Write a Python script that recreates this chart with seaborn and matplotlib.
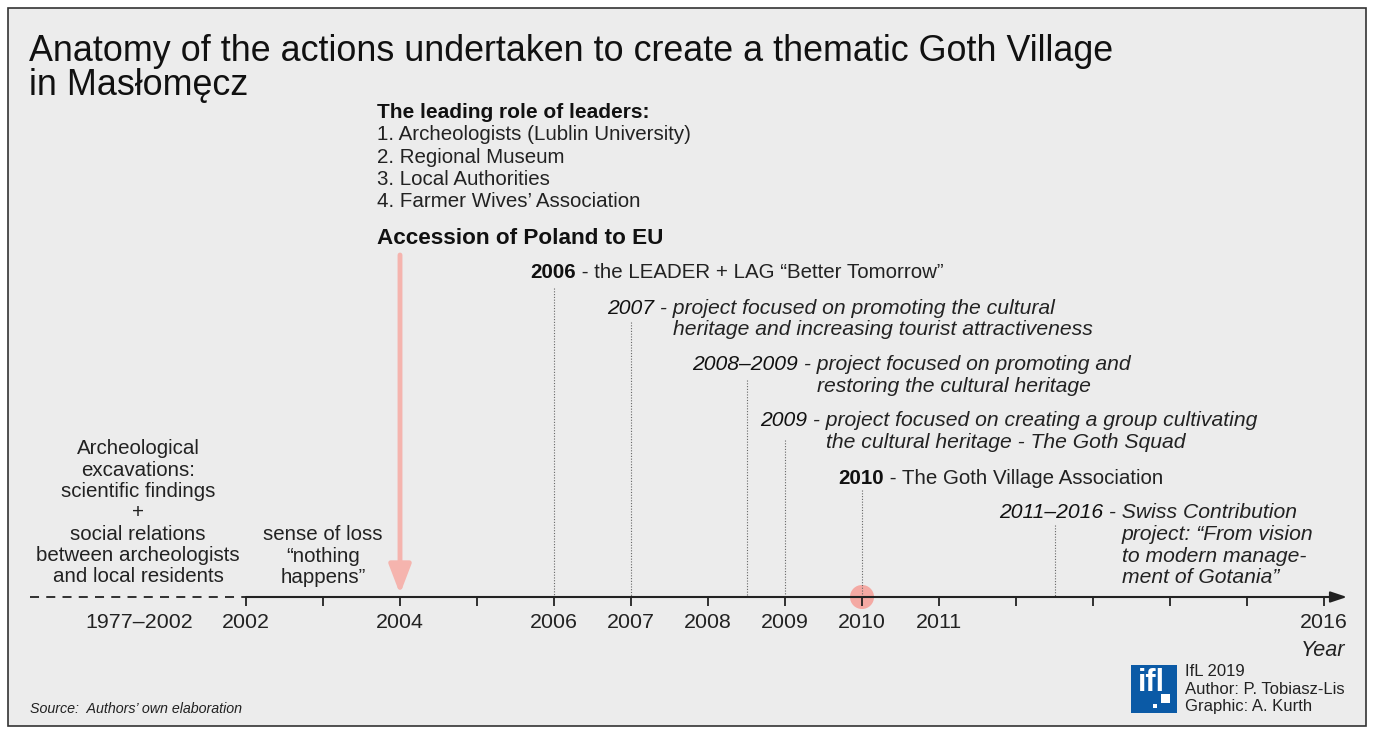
import seaborn as sns
import matplotlib.pyplot as plt
import matplotlib.patches as mpatches
import numpy as np
import pandas as pd

# timeline data
tick_years = list(range(2002, 2017))
tick_labels = ['2002', '', '2004', '', '2006', '2007', '2008', '2009', '2010', '2011',
               '', '', '', '', '2016']
leaders = ['1. Archeologists (Lublin University)', '2. Regional Museum',
           '3. Local Authorities', '4. Farmer Wives\u2019 Association']

# vertical markers: year on the axis, and where the dotted line starts (px from top)
marker_years = [2006, 2007, 2008.5, 2009, 2010, 2012.5]
marker_tops = [288, 322, 380, 440, 490, 525]

events = pd.DataFrame({
    'year': [2006, 2007, 2008.5, 2009, 2010, 2011],
    'head': ['2006', '2007', '2008\u20132009', '2009', '2010', '2011\u20132016'],
    'bold': [True, False, False, False, True, False],
    'lines': [['the LEADER + LAG \u201cBetter Tomorrow\u201d'],
              ['project focused on promoting the cultural',
               'heritage and increasing tourist attractiveness'],
              ['project focused on promoting and', 'restoring the cultural heritage'],
              ['project focused on creating a group cultivating',
               'the cultural heritage - The Goth Squad'],
              ['The Goth Village Association'],
              ['Swiss Contribution', 'project: \u201cFrom vision',
               'to modern manage-', 'ment of Gotania\u201d']],
    'x': [530, 607, 692, 760, 838, 999],
    'y': [273, 308, 365, 421, 478, 513],
})

W, H = 1374, 733
X0, PX_YEAR = 246, 77.0   # pixel of 2002, pixels per year


def yr(px):
    return 2002 + (px - X0) / PX_YEAR


sns.set_theme(style='white')
plt.rcParams['font.family'] = ['Liberation Sans', 'DejaVu Sans']
TXT = '#222222'
BG = '#ececec'
FS = 14.8     # body text
FSI = 15.2    # italic event text
FST = 15.4    # tick labels

fig = plt.figure(figsize=(W / 100, H / 100), dpi=100)
fig.patch.set_facecolor('white')
ax = fig.add_axes([0, 0, 1, 1])
ax.set_xlim(yr(0), yr(W))
ax.set_ylim(H, 0)
ax.axis('off')

# frame
ax.add_patch(mpatches.Rectangle((yr(8), 8), yr(1366) - yr(8), 718, facecolor=BG,
                                edgecolor='#333333', lw=1.2, zorder=0))

ax.text(yr(29), 61, 'Anatomy of the actions undertaken to create a thematic Goth Village',
        fontsize=25.8, color='#111111', va='baseline')
ax.text(yr(29), 95, 'in Mas\u0142om\u0119cz', fontsize=25.8, color='#111111', va='baseline')

ax.text(yr(377), 112, 'The leading role of leaders:', fontsize=15, fontweight='bold',
        color='#111111', va='center')
for i, s in enumerate(leaders):
    ax.text(yr(377), 135 + i * 22.3, s, fontsize=FS, color=TXT, va='center')
ax.text(yr(377), 238, 'Accession of Poland to EU', fontsize=16.2, fontweight='bold',
        color='#111111', va='center')

# left-hand notes
left_note = ['Archeological', 'excavations:', 'scientific findings', '+',
             'social relations', 'between archeologists', 'and local residents']
for i, s in enumerate(left_note):
    ax.text(yr(138), 449 + i * 21.3, s, fontsize=FS, color=TXT, ha='center', va='center')
for i, s in enumerate(['sense of loss', '\u201cnothing', 'happens\u201d']):
    ax.text(yr(323), 535 + i * 21.3, s, fontsize=FS, color=TXT, ha='center', va='center')

# axis line
AY = 597
sns.lineplot(x=[yr(30), 2002], y=[AY, AY], ax=ax, color='#222222', lw=1.3,
             linestyle=(0, (5, 4)))
ax.annotate('', xy=(yr(1347), AY), xytext=(2002, AY),
            arrowprops=dict(arrowstyle='-|>,head_width=0.3,head_length=0.9',
                            color='#222222', lw=1.5,
                            mutation_scale=11, shrinkA=0, shrinkB=0))
ax.vlines(tick_years, AY, AY + 9, color='#222222', lw=1.3)
for y_, lab in zip(tick_years, tick_labels):
    ax.text(y_, 623, lab, fontsize=FST, color=TXT, ha='center', va='center')
ax.text(yr(139), 623, '1977\u20132002', fontsize=FST, color=TXT, ha='center', va='center')
ax.text(yr(1345), 651, 'Year', fontsize=15.5, style='italic', color=TXT, ha='right',
        va='center')

# dotted markers
ax.vlines(marker_years, marker_tops, AY, color='#666666', lw=0.8, linestyle=(0, (1, 1.5)))

# red accent: arrow at 2004 and dot at 2010
ax.annotate('', xy=(2004, AY - 3), xytext=(2004, 255),
            arrowprops=dict(arrowstyle='-|>,head_width=0.42,head_length=1.1',
                            color='#f5b4ae', lw=3.5, mutation_scale=16,
                            shrinkA=0, shrinkB=0))
sns.scatterplot(x=[2010], y=[AY], ax=ax, s=300, color='#f4a9a3', edgecolor='none',
                zorder=1)

# event texts
fig.canvas.draw()
rend = fig.canvas.get_renderer()
inv = ax.transData.inverted()
for _, ev in events.iterrows():
    fs = FS if ev['bold'] else FSI
    st = 'normal' if ev['bold'] else 'italic'
    t = ax.text(yr(ev['x']), ev['y'], ev['head'], fontsize=fs, color='#111111',
                fontweight='bold' if ev['bold'] else 'normal', style=st, va='center')
    bb = t.get_window_extent(renderer=rend)
    x_end = inv.transform((bb.x1, 0))[0]
    lines = ev['lines']
    ax.text(x_end, ev['y'], ' - ' + lines[0], fontsize=fs, color=TXT, va='center', style=st)
    # continuation lines start under the first word after the dash
    dash = ax.text(x_end, ev['y'], ' - ', fontsize=fs, style=st, alpha=0)
    bbd = dash.get_window_extent(renderer=rend)
    x_cont = inv.transform((bbd.x1, 0))[0]
    for j, s in enumerate(lines[1:], start=1):
        ax.text(x_cont, ev['y'] + j * 21.5, s, fontsize=fs, color=TXT, va='center',
                style='italic')

# footer
ax.text(yr(30), 709, 'Source:  Authors\u2019 own elaboration', fontsize=10.3, style='italic',
        color=TXT, va='center')
ax.add_patch(mpatches.Rectangle((yr(1131), 665), yr(1177) - yr(1131), 48,
                                facecolor='#0b5aa6', edgecolor='none'))
ax.text(yr(1151), 683, 'ifl', fontsize=22, fontweight='bold', color='white', ha='center',
        va='center')
ax.add_patch(mpatches.Rectangle((yr(1161), 694), yr(1170) - yr(1161), 9,
                                facecolor='white', edgecolor='none'))
ax.add_patch(mpatches.Rectangle((yr(1153), 704), yr(1157) - yr(1153), 4,
                                facecolor='white', edgecolor='none'))
for i, s in enumerate(['IfL 2019', 'Author: P. Tobiasz-Lis', 'Graphic: A. Kurth']):
    ax.text(yr(1185), 672 + i * 17.5, s, fontsize=12, color=TXT, va='center')

fig.savefig('out.png', dpi=100, facecolor='white')
